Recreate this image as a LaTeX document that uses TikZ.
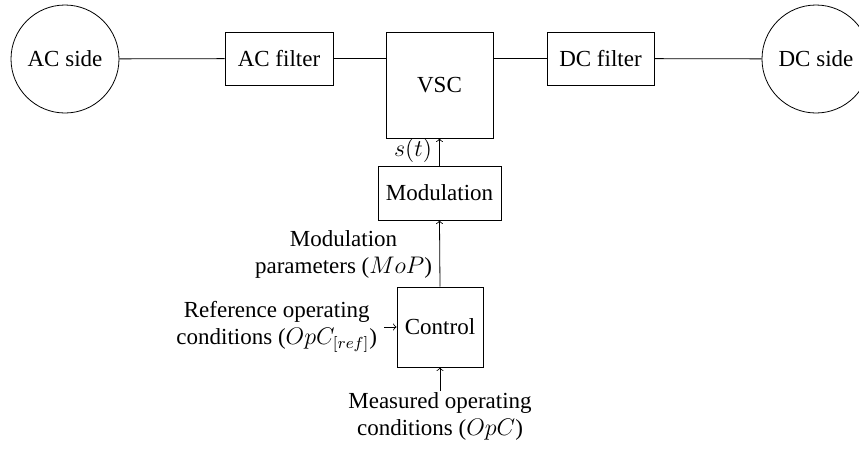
\documentclass[tikz,border=0pt]{standalone}
\usepackage{fontspec}
\setmainfont{Liberation Serif}
\usetikzlibrary{calc}
\tikzset{%
	% Style of the source/sink sides
	Side/.style={circle,draw=black,inner sep=0,minimum size=54pt},
	% Style of the blocks
	Block/.style={rectangle,draw=black,inner sep=2pt},
	% Style of the signal labels
	SignalName/.style={align=center,inner sep=1pt,outer sep=0},
	% Style of the power branch
	Connection/.style={draw=black},
	% Style of the signal branch
	Signal/.style={->,draw=black},
}

\begin{document}
\begin{tikzpicture}[x=0.5pt,y=-0.5pt,font=\fontsize{11.5}{13.5}\selectfont]
\useasboundingbox (0,0) rectangle (859,451);

%~~~~~~~~~~~~~~~~~~~~~~~~~~~~~~~~~~~~~~~~~~~~~~~~~~
% Set Nodes
%~~~~~~~~~~~~~~~~~~~~~~~~~~~~~~~~~~~~~~~~~~~~~~~~~~
\node[Side] (ACside) at (65, 59) {AC side};

\node[Block, minimum width=54pt, minimum height=26.5pt] (ACfilter) at (279, 58.5) {AC filter};

\node[Block, minimum width=53.5pt, minimum height=53pt] (VSC) at (439.5, 85) {VSC};

\node[Block, minimum width=53.5pt, minimum height=26.5pt] (DCfilter) at (600.5, 58.5) {DC filter};

\node[Side] (DCside) at (816, 59) {DC side};

\node[Block, minimum width=61.5pt, minimum height=27pt] (Modulation) at (439.5, 193) {Modulation};

\node[Block, minimum width=43pt, minimum height=40pt] (Control) at (440, 327) {Control};

%~~~~~~~~~~~~~~~~~~~~~~~~~~~~~~~~~~~~~~~~~~~~~~~~~~
% Set Labels
%~~~~~~~~~~~~~~~~~~~~~~~~~~~~~~~~~~~~~~~~~~~~~~~~~~
\node[SignalName] (SwitchName) at (413, 150) {$s(t)$};

\node[SignalName, anchor=east] (MoPName) at (434, 254) {Modulation\\parameters ($MoP$)};

\node[SignalName, anchor=east, outer sep=2.5pt] (RefName) at (384, 327) {Reference operating\\conditions ($OpC_{[ref]}$)};

\node[SignalName, anchor=north] (MeasName) at (440, 391) {Measured operating\\conditions ($OpC$)};

%~~~~~~~~~~~~~~~~~~~~~~~~~~~~~~~~~~~~~~~~~~~~~~~~~~
% Set Branches
%~~~~~~~~~~~~~~~~~~~~~~~~~~~~~~~~~~~~~~~~~~~~~~~~~~
%Branch from AC side to VSC
\draw [Connection] (ACside) -- (ACfilter);
\draw [Connection] (ACfilter.east) -- (ACfilter.east -| VSC.west);

%Branch from VSC to DC side
\draw [Connection] (DCfilter.west -| VSC.east) -- (DCfilter.west);
\draw [Connection] (DCfilter) -- (DCside);

%Branch from Modulation to VSC
\draw [Signal] (Modulation.north) -- (VSC.south);

%Branch from Control to Modulation
\draw [Signal] (Control.north) -- (Modulation.south);

%Branch from references to Control
\draw [Signal] (RefName.east) -- (Control.west);

%Branch from measurements to Control
\draw [Signal] (MeasName.north) -- (Control.south);

\end{tikzpicture}
\end{document}
